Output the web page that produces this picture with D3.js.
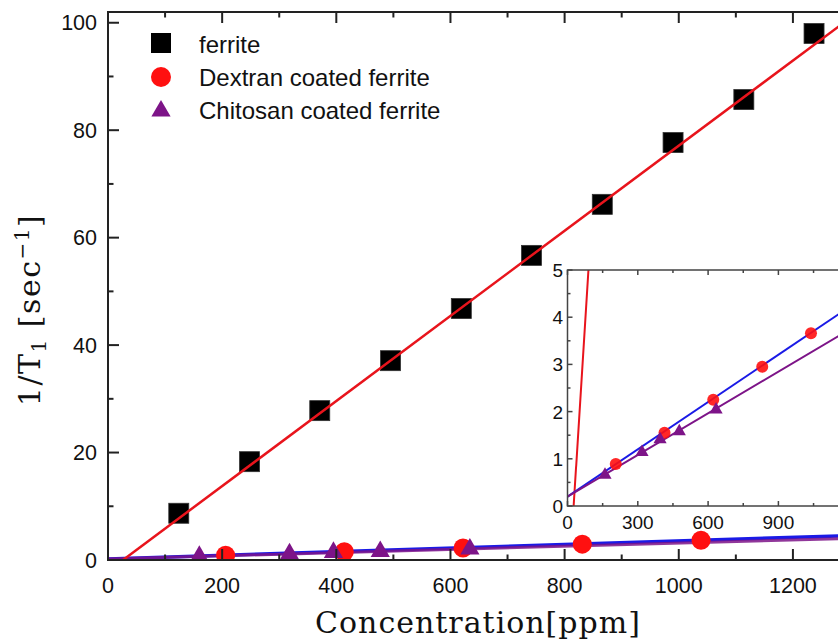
<!DOCTYPE html>
<html>
<head>
<meta charset="utf-8">
<script src="https://cdn.jsdelivr.net/npm/d3@7"></script>
<style>
  body { margin: 0; background: #fff; }
  svg { display: block; }
</style>
</head>
<body>
<div class="chart"></div>
<script>
// data
var ferriteX = [124, 248, 371, 495, 619, 742, 866, 990, 1114, 1237];
var ferriteY = [8.7, 18.3, 27.8, 37.1, 46.8, 56.7, 66.2, 77.7, 85.7, 98.0];
var dextranX = [206, 414, 622, 831, 1039];
var dextranY = [0.89, 1.55, 2.25, 2.95, 3.66];
var chitosanX = [160, 318, 395, 477, 634];
var chitosanY = [0.66, 1.14, 1.41, 1.58, 2.04];

// linear fits (slope, intercept)
var ferriteFit = [0.0792, -2.08];
var dextranFit = [0.00334, 0.2];
var chitosanFit = [0.00294, 0.2];

var legendLabels = ["ferrite", "Dextran coated ferrite", "Chitosan coated ferrite"];
var xTicks = [0, 200, 400, 600, 800, 1000, 1200];
var yTicks = [0, 20, 40, 60, 80, 100];
var insetXTicks = [0, 300, 600, 900];
var insetYTicks = [0, 1, 2, 3, 4, 5];

var w = 838, h = 641;
var RED = "#e8141c", BLUE = "#1a1ae6", PURPLE = "#7d1488", DOT_RED = "#ff1010";

var svg = d3.select(".chart").append("svg")
  .attr("width", w).attr("height", h);

function pairs(xs, ys) {
  return xs.map(function(x, i) { return [x, ys[i]]; });
}
function fitLine(fit, x0, x1) {
  return [[x0, fit[0] * x0 + fit[1]], [x1, fit[0] * x1 + fit[1]]];
}

//----------------------------------------------------------
// main plot
var x = d3.scaleLinear().domain([0, 1300]).range([108, 850]);
var y = d3.scaleLinear().domain([0, 102]).range([560, 12]);

svg.append("clipPath").attr("id", "mainClip")
  .append("rect").attr("x", 108).attr("y", 12)
  .attr("width", 742).attr("height", 548);

var main = svg.append("g").attr("clip-path", "url(#mainClip)");
var line = d3.line().x(function(d) { return x(d[0]); }).y(function(d) { return y(d[1]); });

main.append("path")
  .datum(fitLine(dextranFit, 0, 1300))
  .attr("d", line).attr("fill", "none")
  .attr("stroke", BLUE).attr("stroke-width", 3.5);
main.append("path")
  .datum(fitLine(chitosanFit, 0, 1300))
  .attr("d", line).attr("fill", "none")
  .attr("stroke", PURPLE).attr("stroke-width", 3).attr("opacity", 0.85);

main.selectAll("circle.dex")
  .data(pairs(dextranX, dextranY))
  .enter().append("circle")
  .attr("class", "dex")
  .attr("cx", function(d) { return x(d[0]); })
  .attr("cy", function(d) { return y(d[1]); })
  .attr("r", 9.5)
  .attr("fill", DOT_RED);

main.selectAll("path.chi")
  .data(pairs(chitosanX, chitosanY))
  .enter().append("path")
  .attr("class", "chi")
  .attr("transform", function(d) { return "translate(" + x(d[0]) + "," + y(d[1]) + ")"; })
  .attr("d", d3.symbol(d3.symbolTriangle, 160))
  .attr("fill", PURPLE);

main.selectAll("rect.fer")
  .data(pairs(ferriteX, ferriteY))
  .enter().append("rect")
  .attr("class", "fer")
  .attr("x", function(d) { return x(d[0]) - 10; })
  .attr("y", function(d) { return y(d[1]) - 10; })
  .attr("width", 20).attr("height", 20)
  .attr("fill", "#000").attr("stroke", "#333").attr("stroke-width", 0.8);

var x0 = -ferriteFit[1] / ferriteFit[0];
main.append("path")
  .datum(fitLine(ferriteFit, x0, 1300))
  .attr("d", line).attr("fill", "none")
  .attr("stroke", RED).attr("stroke-width", 2.5);

// frame and ticks
var frame = svg.append("g").attr("stroke", "#222").attr("stroke-width", 2).attr("fill", "none");
frame.append("rect").attr("x", 108).attr("y", 12).attr("width", 742).attr("height", 548);

var xMinor = d3.range(0, 1301, 100);
var yMinor = d3.range(0, 103, 10);
xMinor.forEach(function(v) {
  var len = v % 200 === 0 ? 11 : 5.5;
  frame.append("line").attr("x1", x(v)).attr("x2", x(v)).attr("y1", 560).attr("y2", 560 - len);
  frame.append("line").attr("x1", x(v)).attr("x2", x(v)).attr("y1", 12).attr("y2", 12 + len);
});
yMinor.forEach(function(v) {
  var len = v % 20 === 0 ? 11 : 5.5;
  frame.append("line").attr("y1", y(v)).attr("y2", y(v)).attr("x1", 108).attr("x2", 108 + len);
  frame.append("line").attr("y1", y(v)).attr("y2", y(v)).attr("x1", 850).attr("x2", 850 - len);
});

var labelFont = "'Liberation Sans', Arial, sans-serif";
svg.selectAll("text.xt").data(xTicks).enter().append("text")
  .attr("class", "xt")
  .attr("x", function(d) { return x(d); }).attr("y", 593)
  .attr("text-anchor", "middle")
  .attr("font-family", labelFont).attr("font-size", 21.5).attr("fill", "#111")
  .text(function(d) { return d; });
svg.selectAll("text.yt").data(yTicks).enter().append("text")
  .attr("class", "yt")
  .attr("x", 97).attr("y", function(d) { return y(d) + 7.5; })
  .attr("text-anchor", "end")
  .attr("font-family", labelFont).attr("font-size", 21.5).attr("fill", "#111")
  .text(function(d) { return d; });

// axis titles
var serif = "'DejaVu Serif', serif";
svg.append("text")
  .attr("x", 478).attr("y", 633)
  .attr("text-anchor", "middle")
  .attr("font-family", serif).attr("font-size", 30)
  .attr("letter-spacing", 1).attr("fill", "#111")
  .text("Concentration[ppm]");

var yt = svg.append("text")
  .attr("transform", "translate(40,310) rotate(-90)")
  .attr("text-anchor", "middle")
  .attr("font-family", serif).attr("font-size", 30)
  .attr("letter-spacing", 1.5).attr("fill", "#111");
yt.append("tspan").text("1/T");
yt.append("tspan").attr("font-size", 20).attr("dy", 6).text("1");
yt.append("tspan").attr("dy", -6).text(" [sec");
yt.append("tspan").attr("font-size", 20).attr("dy", -11).text("\u22121");
yt.append("tspan").attr("dy", 11).text("]");

// legend
var legend = svg.append("g");
legend.append("rect").attr("x", 151).attr("y", 33).attr("width", 20).attr("height", 20).attr("fill", "#000");
legend.append("circle").attr("cx", 161).attr("cy", 77).attr("r", 10).attr("fill", DOT_RED);
legend.append("path").attr("transform", "translate(161,111)")
  .attr("d", d3.symbol(d3.symbolTriangle, 160)).attr("fill", PURPLE);
legend.selectAll("text").data(legendLabels).enter().append("text")
  .attr("x", 199).attr("y", function(d, i) { return 53 + i * 33; })
  .attr("font-family", labelFont).attr("font-size", 24).attr("fill", "#111")
  .text(function(d) { return d; });

//----------------------------------------------------------
// inset
var ix = d3.scaleLinear().domain([0, 1200]).range([567.5, 848.7]);
var iy = d3.scaleLinear().domain([0, 5]).range([506, 270]);

svg.append("clipPath").attr("id", "insetClip")
  .append("rect").attr("x", 567.5).attr("y", 270)
  .attr("width", 281.2).attr("height", 236);

var inset = svg.append("g");
inset.append("rect").attr("x", 567.5).attr("y", 270).attr("width", 281.2).attr("height", 236)
  .attr("fill", "#fff");

var ip = inset.append("g").attr("clip-path", "url(#insetClip)");
var iline = d3.line().x(function(d) { return ix(d[0]); }).y(function(d) { return iy(d[1]); });

ip.append("path").datum(fitLine(ferriteFit, x0, (5 - ferriteFit[1]) / ferriteFit[0]))
  .attr("d", iline).attr("fill", "none").attr("stroke", RED).attr("stroke-width", 2);
ip.append("path").datum(fitLine(dextranFit, 0, 1200))
  .attr("d", iline).attr("fill", "none").attr("stroke", BLUE).attr("stroke-width", 2);
ip.append("path").datum(fitLine(chitosanFit, 0, 1200))
  .attr("d", iline).attr("fill", "none").attr("stroke", PURPLE).attr("stroke-width", 2);

ip.selectAll("circle").data(pairs(dextranX, dextranY)).enter().append("circle")
  .attr("cx", function(d) { return ix(d[0]); })
  .attr("cy", function(d) { return iy(d[1]); })
  .attr("r", 6).attr("fill", DOT_RED).attr("opacity", 0.9);
ip.selectAll("path.chi").data(pairs(chitosanX, chitosanY)).enter().append("path")
  .attr("class", "chi")
  .attr("transform", function(d) { return "translate(" + ix(d[0]) + "," + iy(d[1]) + ")"; })
  .attr("d", d3.symbol(d3.symbolTriangle, 75)).attr("fill", PURPLE);

var iframe = inset.append("g").attr("stroke", "#444").attr("stroke-width", 1.5).attr("fill", "none");
iframe.append("rect").attr("x", 567.5).attr("y", 270).attr("width", 281.2).attr("height", 236);
d3.range(0, 1201, 150).forEach(function(v) {
  var len = v % 300 === 0 ? 5 : 3;
  iframe.append("line").attr("x1", ix(v)).attr("x2", ix(v)).attr("y1", 506).attr("y2", 506 - len);
  iframe.append("line").attr("x1", ix(v)).attr("x2", ix(v)).attr("y1", 270).attr("y2", 270 + len);
});
d3.range(0, 5.01, 0.5).forEach(function(v) {
  var len = v % 1 === 0 ? 5 : 3;
  iframe.append("line").attr("y1", iy(v)).attr("y2", iy(v)).attr("x1", 567.5).attr("x2", 567.5 + len);
});

svg.selectAll("text.ixt").data(insetXTicks).enter().append("text")
  .attr("class", "ixt")
  .attr("x", function(d) { return ix(d); }).attr("y", 528.5)
  .attr("text-anchor", "middle")
  .attr("font-family", labelFont).attr("font-size", 19).attr("fill", "#111")
  .text(function(d) { return d; });
svg.selectAll("text.iyt").data(insetYTicks).enter().append("text")
  .attr("class", "iyt")
  .attr("x", 563).attr("y", function(d) { return iy(d) + 7; })
  .attr("text-anchor", "end")
  .attr("font-family", labelFont).attr("font-size", 19).attr("fill", "#111")
  .text(function(d) { return d; });
</script>
</body>
</html>
